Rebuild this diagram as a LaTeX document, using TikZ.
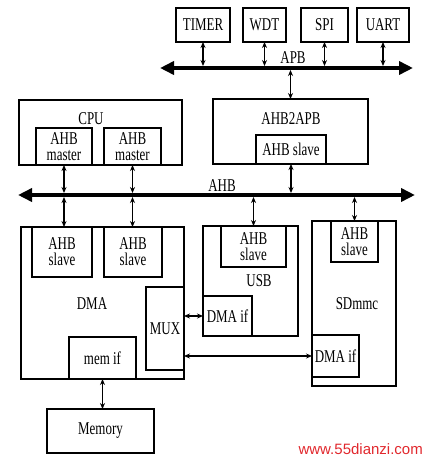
\documentclass[tikz,border=0pt]{standalone}
\usepackage{fontspec}
\setmainfont{Liberation Serif}[FakeStretch=0.72]
\newfontfamily\wmfont{Liberation Sans}
\usetikzlibrary{arrows.meta}
\definecolor{wmred}{RGB}{225,40,45}
\begin{document}
\begin{tikzpicture}[x=1pt,y=-1pt,
  box/.style={draw, line width=1.5pt, inner sep=0pt, outer sep=0pt, anchor=north west, align=center, font=\fontsize{18}{16}\selectfont},
  lbl/.style={inner sep=0pt, font=\fontsize{18}{16}\selectfont},
  bus/.style={line width=4pt, {Triangle[length=14pt,width=13pt]}-{Triangle[length=14pt,width=13pt]}},
  conn/.style={line width=1.4pt, {Stealth[length=6pt,width=5pt]}-{Stealth[length=6pt,width=5pt]}}
]
\useasboundingbox (0,0) rectangle (427,461);
% APB peripherals
\node[box, minimum width=54pt, minimum height=34pt] (timer) at (176,8) {TIMER};
\node[box, minimum width=43pt, minimum height=34pt] (wdt) at (243,8) {WDT};
\node[box, minimum width=47pt, minimum height=34pt] (spi) at (301,8) {SPI};
\node[box, minimum width=52pt, minimum height=34pt] (uart) at (357,8) {UART};
\coordinate (apbL) at (160,68);
\coordinate (apbR) at (413,68);
\draw[bus] (apbL) -- (apbR);
\node[lbl] (apblbl) at (293,58) {APB};
% CPU
\node[box, minimum width=163pt, minimum height=65pt] (cpu) at (19,100) {};
\node[lbl] (cpulbl) at (91,119) {CPU};
\node[box, minimum width=56pt, minimum height=37pt] (m1) at (36,128) {AHB\\master};
\node[box, minimum width=57pt, minimum height=37pt] (m2) at (104,128) {AHB\\master};
% AHB2APB
\node[box, minimum width=155pt, minimum height=65pt] (bridge) at (213,99) {};
\node[lbl] (bridgelbl) at (291,119) {AHB2APB};
\node[box, minimum width=70pt, minimum height=29pt] (bslave) at (256,135) {AHB slave};
% AHB bus
\coordinate (ahbL) at (18,195);
\coordinate (ahbR) at (415,195);
\draw[bus] (ahbL) -- (ahbR);
\node[lbl] (ahblbl) at (222,186) {AHB};
% DMA
\node[box, minimum width=163pt, minimum height=152pt] (dma) at (21,227) {};
\node[lbl] (dmalbl) at (92,304) {DMA};
\node[box, minimum width=60pt, minimum height=50pt] (s1) at (32,227) {AHB\\slave};
\node[box, minimum width=58pt, minimum height=50pt] (s2) at (104,227) {AHB\\slave};
\node[box, minimum width=38pt, minimum height=83pt] (mux) at (146,287) {MUX};
\node[box, minimum width=67pt, minimum height=42pt] (memif) at (69,337) {mem if};
\node[box, minimum width=107pt, minimum height=44pt] (memory) at (47,409) {Memory};
% USB
\node[box, minimum width=95pt, minimum height=110pt] (usb) at (203,226) {};
\node[box, minimum width=65pt, minimum height=41pt] (us) at (221,226) {AHB\\slave};
\node[lbl] (usblbl) at (259,281) {USB};
\node[box, minimum width=49pt, minimum height=40pt] (usbdma) at (203,296) {DMA if};
% SDmmc
\node[box, minimum width=84pt, minimum height=165pt] (sd) at (312,221) {};
\node[box, minimum width=47pt, minimum height=41pt] (ss) at (331,221) {AHB\\slave};
\node[lbl] (sdlbl) at (357,304) {SDmmc};
\node[box, minimum width=47pt, minimum height=42pt] (sddma) at (312,335) {DMA if};
% watermark
\node[inner sep=0pt, anchor=east, text=wmred, font=\wmfont\fontsize{15}{15}\selectfont] (wm) at (423,449) {www.55dianzi.com};
% connectors APB
\foreach \n in {timer,wdt,spi,uart}
  \draw[conn, shorten >=2pt] (\n.south) -- (\n.south |- apbL);
\draw[conn, shorten >=2pt] (bridge.north) -- (bridge.north |- apbL);
% connectors AHB
\draw[conn, shorten >=2pt] (m1.south) -- (m1.south |- ahbL);
\draw[conn, shorten <=2pt] (m1.south |- ahbL) -- (m1.south |- s1.north);
\draw[conn, shorten >=2pt] (m2.south) -- (m2.south |- ahbL);
\draw[conn, shorten <=2pt] (m2.south |- ahbL) -- (m2.south |- s2.north);
\draw[conn, shorten >=2pt] (bslave.south) -- (bslave.south |- ahbL);
\draw[conn, shorten <=2pt] (us.north |- ahbL) -- (us.north);
\draw[conn, shorten <=2pt] (ss.north |- ahbL) -- (ss.north);
% DMA internal links
\draw[conn] (usbdma.west -| mux.east) -- (usbdma.west);
\draw[conn] (sddma.west -| mux.east) -- (sddma.west);
\draw[conn] (memif.south) -- (memif.south |- memory.north);
\end{tikzpicture}
\end{document}
